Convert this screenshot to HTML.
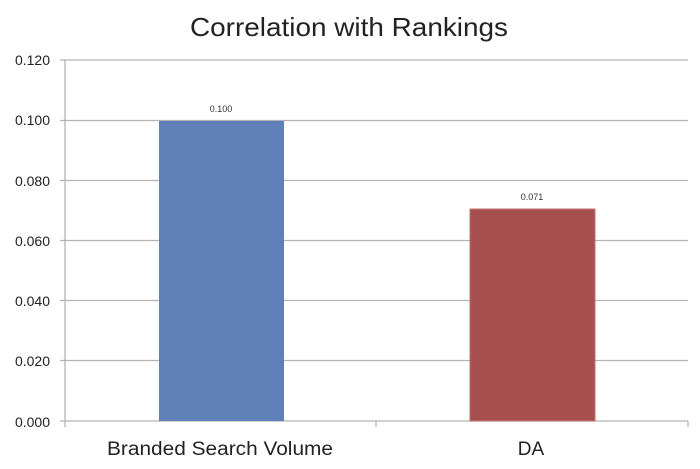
<!DOCTYPE html>
<html><head><meta charset="utf-8"><style>html,body{margin:0;padding:0;background:#fff;}svg{display:block}</style></head>
<body>
<svg width="700" height="469" viewBox="0 0 700 469" xmlns="http://www.w3.org/2000/svg" font-family="Liberation Sans, sans-serif">
<rect width="700" height="469" fill="#fff"/>
<text x="349" y="36" font-size="26" text-anchor="middle" fill="#222" textLength="318" lengthAdjust="spacingAndGlyphs">Correlation with Rankings</text>
<g stroke="#b3b3b3" stroke-width="1.3">
<line x1="60" y1="60" x2="688" y2="60"/>
<line x1="60" y1="120.5" x2="688" y2="120.5"/>
<line x1="60" y1="180.5" x2="688" y2="180.5"/>
<line x1="60" y1="240.5" x2="688" y2="240.5"/>
<line x1="60" y1="300.5" x2="688" y2="300.5"/>
<line x1="60" y1="360.5" x2="688" y2="360.5"/>
<line x1="60" y1="421" x2="688" y2="421"/>
<line x1="65" y1="60" x2="65" y2="427"/>
<line x1="376" y1="421" x2="376" y2="427"/>
<line x1="688" y1="421" x2="688" y2="427"/>
</g>
<g font-size="14" fill="#222" text-anchor="end">
<text x="50" y="65">0.120</text>
<text x="50" y="125">0.100</text>
<text x="50" y="186">0.080</text>
<text x="50" y="246">0.060</text>
<text x="50" y="306">0.040</text>
<text x="50" y="366">0.020</text>
<text x="50" y="427">0.000</text>
</g>
<rect x="159" y="121" width="125" height="300" fill="#5f80b9"/>
<rect x="470" y="209" width="125" height="212" fill="#a5504e" stroke="#c97070" stroke-width="1"/>
<g font-size="9" fill="#333" text-anchor="middle">
<text x="221" y="112">0.100</text>
<text x="532" y="200">0.071</text>
</g>
<g font-size="19" fill="#222" text-anchor="middle">
<text x="220" y="455" textLength="226" lengthAdjust="spacingAndGlyphs">Branded Search Volume</text>
<text x="531" y="455">DA</text>
</g>
</svg>
</body></html>
